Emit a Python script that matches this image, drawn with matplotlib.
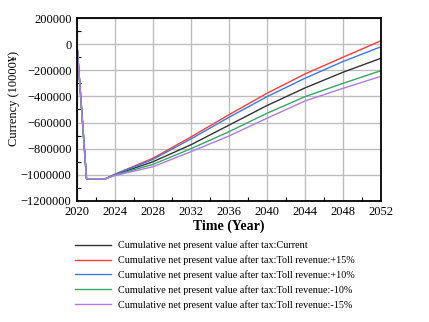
import numpy as np
import matplotlib.pyplot as plt
from matplotlib.ticker import MultipleLocator, FuncFormatter

years = [2020, 2021, 2023, 2024, 2028, 2032, 2036, 2040, 2044, 2048, 2052]

# cumulative net present value after tax (10000 yuan)
current = [0, -1030000, -1030000, -1000000, -900000, -770000, -620000, -470000, -335000, -215000, -108000]
toll_p15 = [0, -1030000, -1030000, -995000, -873000, -710000, -540000, -376000, -228000, -100000, 26000]
toll_p10 = [0, -1030000, -1030000, -997000, -882000, -725000, -560000, -402000, -261000, -133000, -20000]
toll_m10 = [0, -1030000, -1030000, -1003000, -920000, -800000, -670000, -529000, -402000, -300000, -203000]
toll_m15 = [0, -1030000, -1030000, -1005000, -938000, -823000, -703000, -567000, -435000, -338000, -246000]

labels = ["Cumulative net present value after tax:Current",
          "Cumulative net present value after tax:Toll revenue:+15%",
          "Cumulative net present value after tax:Toll revenue:+10%",
          "Cumulative net present value after tax:Toll revenue:-10%",
          "Cumulative net present value after tax:Toll revenue:-15%"]
colors = ['#333333', '#ff3b3b', '#3a7be8', '#33a864', '#b07ae8']

plt.rcParams['font.family'] = ['Liberation Serif', 'DejaVu Serif']
plt.rcParams['axes.unicode_minus'] = True

fig = plt.figure(figsize=(4.29, 3.22), dpi=100)
ax = fig.add_axes([0.1795, 0.376, 0.7085, 0.568])

for series, col, lab in zip([current, toll_p15, toll_p10, toll_m10, toll_m15], colors, labels):
    ax.plot(years, series, color=col, lw=1.0, label=lab)

ax.set_xlim(2020, 2052)
ax.set_ylim(-1200000, 200000)
ax.xaxis.set_major_locator(MultipleLocator(4))
ax.xaxis.set_minor_locator(MultipleLocator(2))
ax.yaxis.set_major_locator(MultipleLocator(200000))
ax.yaxis.set_minor_locator(MultipleLocator(100000))
ax.yaxis.set_major_formatter(FuncFormatter(lambda v, p: f"{int(round(v))}".replace('-', '\u2212')))
ax.grid(True, which='major', color='#bdbdbd', lw=1.0)
ax.set_axisbelow(True)
ax.tick_params(which='both', direction='in', labelsize=9)
ax.tick_params(which='major', length=0, pad=4)
ax.tick_params(which='minor', length=3, width=0.8)
for s in ax.spines.values():
    s.set_linewidth(1.3)

ax.set_xlabel('Time (Year)', fontsize=10, fontweight='bold', labelpad=1)
# y label sits close to the left edge, as in the original
fig.text(14 / 429, 1 - 98 / 322, 'Currency (10000¥)', rotation=90,
         ha='center', va='center', fontsize=9)

fig.legend(loc='upper left', bbox_to_anchor=(0.165, 0.265), frameon=False,
           fontsize=7.3, handlelength=3.6, handletextpad=0.7, labelspacing=0.5,
           borderaxespad=0)

fig.savefig('out.png', dpi=100)
